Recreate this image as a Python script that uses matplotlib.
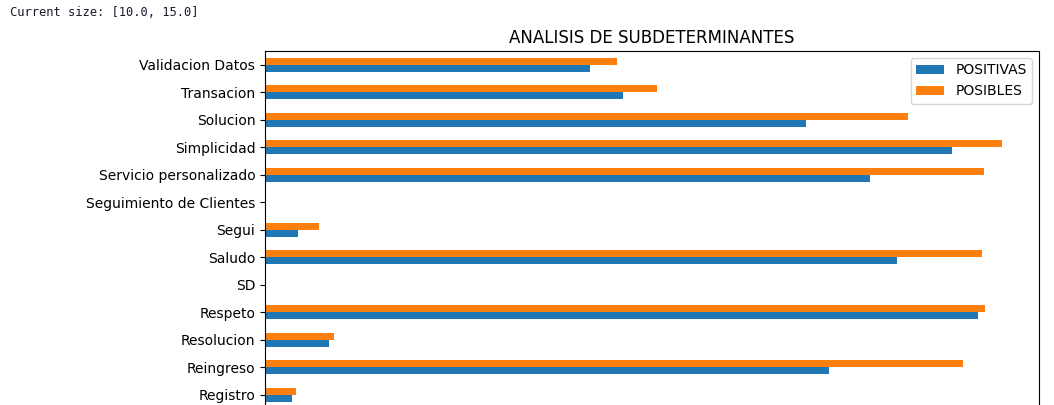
import numpy as np
import matplotlib.pyplot as plt

# Data (top part of the chart only)
categorias = ['Registro', 'Reingreso', 'Resolucion', 'Respeto', 'SD', 'Saludo',
              'Segui', 'Seguimiento de Clientes', 'Servicio personalizado',
              'Simplicidad', 'Solucion', 'Transacion', 'Validacion Datos']
positivas = [270, 5640, 640, 7130, 0, 6320, 330, 8, 6050, 6870, 5410, 3580, 3250]
posibles = [310, 6980, 690, 7200, 0, 7170, 540, 12, 7190, 7370, 6430, 3920, 3520]

fig = plt.figure(figsize=(10.54, 4.05), dpi=100)

# notebook output line above the figure
fig.text(10 / 1054, 1 - 13 / 405, 'Current size: [10.0, 15.0]', family='DejaVu Sans Mono',
         fontsize=8.7, color='#1a1a2e', va='center', ha='left')

# axes extends past the bottom of the image (figure was cropped)
ax = fig.add_axes([265 / 1054, 0.8741 - 0.9506, 774 / 1054, 0.9506])

y = np.arange(len(categorias))
h = 0.25
ax.barh(y - h / 2, positivas, height=h, color='#1f77b4', label='POSITIVAS')
ax.barh(y + h / 2, posibles, height=h, color='#ff7f0e', label='POSIBLES')

ax.set_yticks(y)
ax.set_yticklabels(categorias, fontsize=10)
ax.set_ylim(-1.5, len(categorias) - 0.5)
ax.set_xlim(0, max(posibles) * 1.05)
# x axis sits below the cropped area
ax.tick_params(axis='x', bottom=False, labelbottom=False)
ax.set_title('ANALISIS DE SUBDETERMINANTES', fontsize=12)
ax.legend(loc='upper right', fontsize=10)

fig.savefig('out.png', dpi=100)
